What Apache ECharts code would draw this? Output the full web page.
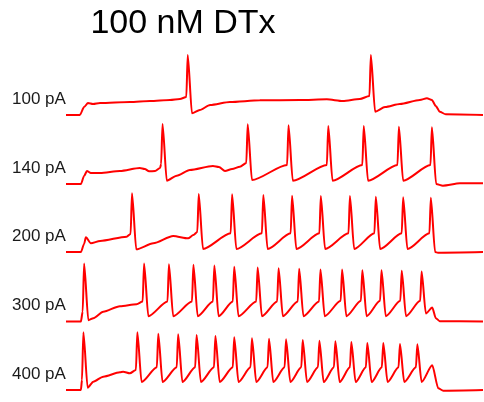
<!DOCTYPE html>
<html>
<head>
<meta charset="utf-8">
<script src="https://cdn.jsdelivr.net/npm/echarts@6/dist/echarts.min.js"></script>
<style>
  html, body { margin: 0; padding: 0; background: #ffffff; }
  #chart { width: 484px; height: 402px; }
</style>
</head>
<body>
<div id="chart"></div>
<script>
// ---- recorded values -------------------------------------------------------
const titleText = '100 nM DTx';
const currents = ['100 pA', '140 pA', '200 pA', '300 pA', '400 pA'];

// Action potentials of each sweep: [peak time (ms), threshold (mV), peak (mV), AHP trough (mV)]
const spikes100 = [[298, -43, 20, -67.5], [814, -41.5, 20, -65]];
const spikes140 = [
  [227, -40, 20, -65], [467, -38.5, 19.5, -64], [582, -41.5, 18, -65], [694, -41.5, 17, -65],
  [794, -41.5, 17, -65], [893, -41.5, 16, -65], [986, -41.5, 15, -70]
];
const spikes200 = [
  [141, -43, 18, -66], [329, -40, 17, -65.5], [423, -42, 16.5, -65.5], [511, -42, 15.5, -65.5],
  [592, -42, 14.5, -65.5], [673, -42, 14, -65.5], [755, -42, 14, -65.5], [828, -42, 13, -65.5],
  [905, -42, 12, -65.5], [983, -42, 11.5, -70]
];
const spikes300 = [
  [6, -55, 17, -68], [175, -40, 17, -62], [245, -40, 16, -62], [314, -40, 15, -62],
  [373, -40, 14, -62], [429, -40, 12, -62], [495, -40, 11, -62], [554, -40, 10, -62],
  [612, -40, 9, -62], [672, -40, 8, -62], [733, -39, 8, -62], [790, -39, 7, -62],
  [844, -39, 7, -62], [901, -39, 6, -62], [957, -39, 5, -58]
];
const spikes400 = [
  [4, -55, 16.5, -66.5], [156, -40, 16.5, -58], [215, -36, 14.5, -58], [271, -36, 13.5, -58],
  [323, -36, 12.5, -58], [376, -36, 11, -58], [429, -36, 9, -58], [479, -36, 7.5, -58],
  [527, -36, 7, -58], [575, -36, 6, -58], [622, -36, 5, -58], [669, -36, 4, -58],
  [714, -36, 3, -58], [759, -36, 2, -58], [804, -36, 0.5, -58], [849, -36, 0.5, -58],
  [896, -36, -1, -58], [945, -36, -1.5, -58]
];

// Subthreshold membrane potential between action potentials: [time (ms), mV]
const sub100 = [
  [-45, -70], [-6, -70], [6, -58], [17, -52], [31, -53.5], [51, -52], [135, -50.5], [192, -49],
  [248, -47.5], [276, -46], [332, -62.5], [361, -55], [417, -50.5], [501, -48], [614, -47.5],
  [690, -46.5], [735, -49], [783, -46], [854, -58], [896, -53.5], [952, -47.5], [972, -45],
  [986, -47.5], [997, -56.5], [1008, -65], [1025, -69], [1130, -70]
];
const sub140 = [
  [-45, -70], [-3, -70], [6, -58], [14, -50.5], [25, -53.5], [51, -53.5], [107, -50.5],
  [163, -46], [177, -47.5], [189, -51], [206, -50.5], [220, -46], [267, -57.5], [304, -49],
  [369, -43], [386, -44.5], [403, -50.5], [423, -47.5], [445, -44], [1017, -72.5], [1065, -69],
  [1130, -69]
];
const sub200 = [
  [-45, -70], [-3, -70], [6, -58], [11, -48], [25, -57], [51, -53.5], [126, -47], [201, -57],
  [257, -46], [299, -49.5], [314, -44.5], [1003, -71], [1130, -70]
];
const sub300 = [
  [-45, -70], [-3, -70], [32, -65], [60, -55.3], [107, -47], [154, -44], [987, -49],
  [997, -65], [1008, -69.5], [1130, -70]
];
const sub400 = [
  [-45, -70], [-3, -70], [32, -57.5], [60, -50], [107, -43.5], [116, -42.5], [135, -45],
  [987, -33], [1004, -67.5], [1018, -71], [1130, -70]
];

// ---- assembly ---------------------------------------------------------------
const AP_RISE_MS = 4;   // threshold to peak
const AP_AHP_MS = 12;   // peak to AHP trough

function sweep(spikes, sub) {
  const pts = sub.map(p => p.slice());
  spikes.forEach(([t, thr, pk, tr]) => {
    pts.push([t - AP_RISE_MS, thr], [t, pk], [t + AP_AHP_MS, tr]);
  });
  return pts.sort((a, b) => a[0] - b[0]);
}

const sweeps = [
  sweep(spikes100, sub100),
  sweep(spikes140, sub140),
  sweep(spikes200, sub200),
  sweep(spikes300, sub300),
  sweep(spikes400, sub400)
];

// ---- layout -----------------------------------------------------------------
const restLine = [115, 184, 252, 321.5, 390];   // pixel row of -70 mV for each sweep
const V_MIN = -75, V_MAX = 25;
const PX_PER_MV = 1 / 1.5;
const gridH = (V_MAX - V_MIN) * PX_PER_MV;

const grids = [], xAxes = [], yAxes = [], series = [], graphics = [];
sweeps.forEach((data, i) => {
  const bottomPx = restLine[i] + (-70 - V_MIN) * PX_PER_MV;
  grids.push({ left: 66, width: 417, top: bottomPx - gridH, height: gridH });
  xAxes.push({ type: 'value', gridIndex: i, min: -45, max: 1130, show: false });
  yAxes.push({ type: 'value', gridIndex: i, min: V_MIN, max: V_MAX, show: false });
  series.push({
    type: 'line', xAxisIndex: i, yAxisIndex: i, data: data,
    showSymbol: false, smooth: 0.25, smoothMonotone: 'x',
    lineStyle: { color: '#ff0000', width: 2 },
    silent: true, animation: false
  });
  graphics.push({
    type: 'text', left: 12, top: restLine[i] - 15.5 - 9,
    style: { text: currents[i], fill: '#1a1a1a', font: '17px "Liberation Sans", Arial, sans-serif' }
  });
});

graphics.push({
  type: 'text', x: 183, y: 24,
  style: {
    text: titleText, fill: '#000000', align: 'center', verticalAlign: 'middle',
    font: '34px "Liberation Sans", Arial, sans-serif'
  }
});

const chart = echarts.init(document.getElementById('chart'), null, { renderer: 'canvas' });
chart.setOption({
  animation: false,
  backgroundColor: '#ffffff',
  grid: grids,
  xAxis: xAxes,
  yAxis: yAxes,
  series: series,
  graphic: graphics
});
</script>
</body>
</html>
